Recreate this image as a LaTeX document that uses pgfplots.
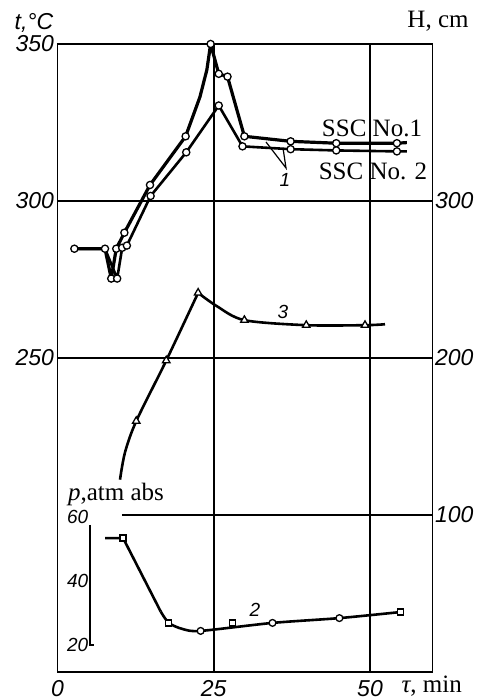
\documentclass[border=0pt]{standalone}
\usepackage{pgfplots}
\pgfplotsset{compat=1.18}
\usepackage{fontspec}
\setmainfont{Liberation Serif}
\newfontfamily\tickfam{Liberation Sans}
\newcommand\tickfont{\tickfam\itshape\fontsize{23}{26}\selectfont}
\newcommand\smallfont{\tickfam\itshape\fontsize{19}{22}\selectfont}
\newcommand\lblfont{\fontsize{25}{30}\selectfont}
\pgfplotsset{every axis/.append style={/pgf/number format/assume math mode=true}}
\begin{document}
\begin{tikzpicture}
\path[use as bounding box] (0pt,0pt) rectangle (477pt,700pt);
% ---------- main axis: t, deg C ----------
\begin{axis}[at={(57.5pt,28pt)}, anchor=south west, scale only axis,
  width=375pt, height=628pt, xmin=0, xmax=60, ymin=150, ymax=350,
  xtick={0,25,50}, ytick={250,300,350},
  grid=major, major grid style={black, line width=1.5pt},
  axis line style={line width=1.8pt}, major tick length=0pt,
  tick label style={font=\tickfont},
  xticklabel style={yshift=-5pt},
  yticklabel style={xshift=0pt},
  clip=false]
\draw[black, line width=1.5pt] (axis cs:10.3,200) -- (axis cs:60,200);
% SSC No.1
\addplot[black, line width=3.2pt, line join=round] coordinates {
 (2.7,284.8) (7.6,284.8) (8.6,275.3) (9.4,284.8) (10.7,289.9) (14.8,305.1)
 (20.5,320.6) (22.8,333.2) (23.9,341.8) (24.5,350) (25.8,340.5) (27.2,339.6)
 (29.9,320.6) (37.3,319.0) (44.6,318.4) (54.3,318.4) (55.9,318.6)};
% SSC No.2
\addplot[black, line width=2.6pt, line join=round] coordinates {
 (2.7,284.8) (7.6,284.8) (9.55,275.3) (10.35,285.1) (11.1,285.8) (14.9,301.6)
 (20.6,315.5) (25.8,330.4) (29.6,317.4) (37.3,316.5) (44.6,316.1) (54.3,315.8) (55.9,315.8)};
\addplot[only marks, mark=*, mark size=3.6pt, mark options={fill=white, draw=black, line width=1.3pt}] coordinates {
 (2.7,284.8) (7.6,284.8) (8.6,275.3) (9.4,284.8) (10.7,289.9) (14.8,305.1)
 (20.5,320.6) (24.5,350) (25.8,340.5) (27.2,339.6) (29.9,320.6) (37.3,319.0) (44.6,318.4) (54.3,318.4)};
\addplot[only marks, mark=*, mark size=3.6pt, mark options={fill=white, draw=black, line width=1.3pt}] coordinates {
 (9.55,275.3) (10.35,285.1) (11.1,285.8) (14.9,301.6)
 (20.6,315.5) (25.8,330.4) (29.6,317.4) (37.3,316.5) (44.6,316.1) (54.3,315.8)};
\end{axis}
% ---------- right axis: H, cm ----------
\begin{axis}[at={(57.5pt,28pt)}, anchor=south west, scale only axis,
  width=375pt, height=628pt, xmin=0, xmax=60, ymin=0, ymax=400,
  axis x line=none, axis y line*=right, ytick={100,200,300},
  axis line style={line width=1.8pt}, major tick length=0pt,
  tick label style={font=\tickfont}, yticklabel style={xshift=-1pt},
  clip=false]
\addplot[black, line width=2.6pt, smooth, tension=0.5] coordinates {
 (10.0,122.5) (10.8,139.9) (12.6,159.8) (17.4,198.4) (22.5,241.5)};
\addplot[black, line width=2.6pt, smooth, tension=0.5] coordinates {
 (22.5,241.5) (25.5,233) (29.9,224.1) (39.8,220.9) (49.2,220.9) (52.4,221.5)};
\addplot[only marks, mark=triangle*, mark size=4.3pt, mark options={fill=white, draw=black, line width=1.3pt}] coordinates {
 (12.6,159.8) (17.4,198.4) (22.5,241.5) (29.9,224.1) (39.8,220.9) (49.2,220.9)};
\end{axis}
% ---------- pressure axis ----------
\begin{axis}[at={(57.5pt,28pt)}, anchor=south west, scale only axis,
  width=375pt, height=628pt, xmin=0, xmax=60, ymin=11.56, ymax=207.8,
  hide axis, clip=false]
\draw[black, line width=1.8pt] (axis cs:5.2,57.5) -- (axis cs:5.2,20) -- (axis cs:5.85,20);
\node[anchor=east, font=\smallfont, inner sep=1pt] at (axis cs:5.1,60) {60};
\node[anchor=east, font=\smallfont, inner sep=1pt] at (axis cs:5.1,40) {40};
\node[anchor=east, font=\smallfont, inner sep=1pt] at (axis cs:5.1,20) {20};
\addplot[black, line width=2.6pt, line join=round] coordinates {(7.6,53.4) (10.5,53.4) (16.5,30.5)};
\addplot[black, line width=2.6pt, smooth, tension=0.45] coordinates {
 (16.5,30.5) (17.8,26.9) (20.0,25.0) (22.9,24.4) (34.4,26.9) (45.1,28.4) (54.9,30.3)};
\addplot[only marks, mark=square*, mark size=3pt, mark options={fill=white, draw=black, line width=1.3pt}] coordinates {
 (10.5,53.4) (17.8,26.9) (28.0,26.9) (54.9,30.3)};
\addplot[only marks, mark=*, mark size=3.4pt, mark options={fill=white, draw=black, line width=1.3pt}] coordinates {
 (22.9,24.4) (34.4,26.9) (45.1,28.4)};
\end{axis}
% ---------- texts (pixel coordinates: x, 700-y) ----------
\node[font=\tickfont] at (34pt,677pt) {t,°C};
\node[font=\lblfont] at (438pt,679pt) {H, cm};
\node[font=\lblfont] at (372pt,572pt) {SSC No.1};
\node[font=\lblfont] at (373pt,529pt) {SSC No. 2};
\node[font=\smallfont] at (285pt,520pt) {1};
\draw[black, line width=1.2pt] (266pt,558pt) -- (286pt,532pt) -- (283pt,552pt);
\node[font=\smallfont] at (283pt,388pt) {3};
\node[font=\smallfont] at (255pt,90pt) {2};
\node[font=\lblfont] at (116pt,206pt) {\textit{p},atm abs};
\node[font=\lblfont, anchor=west] at (398pt,14pt) {\textit{τ}, min};
\end{tikzpicture}
\end{document}
